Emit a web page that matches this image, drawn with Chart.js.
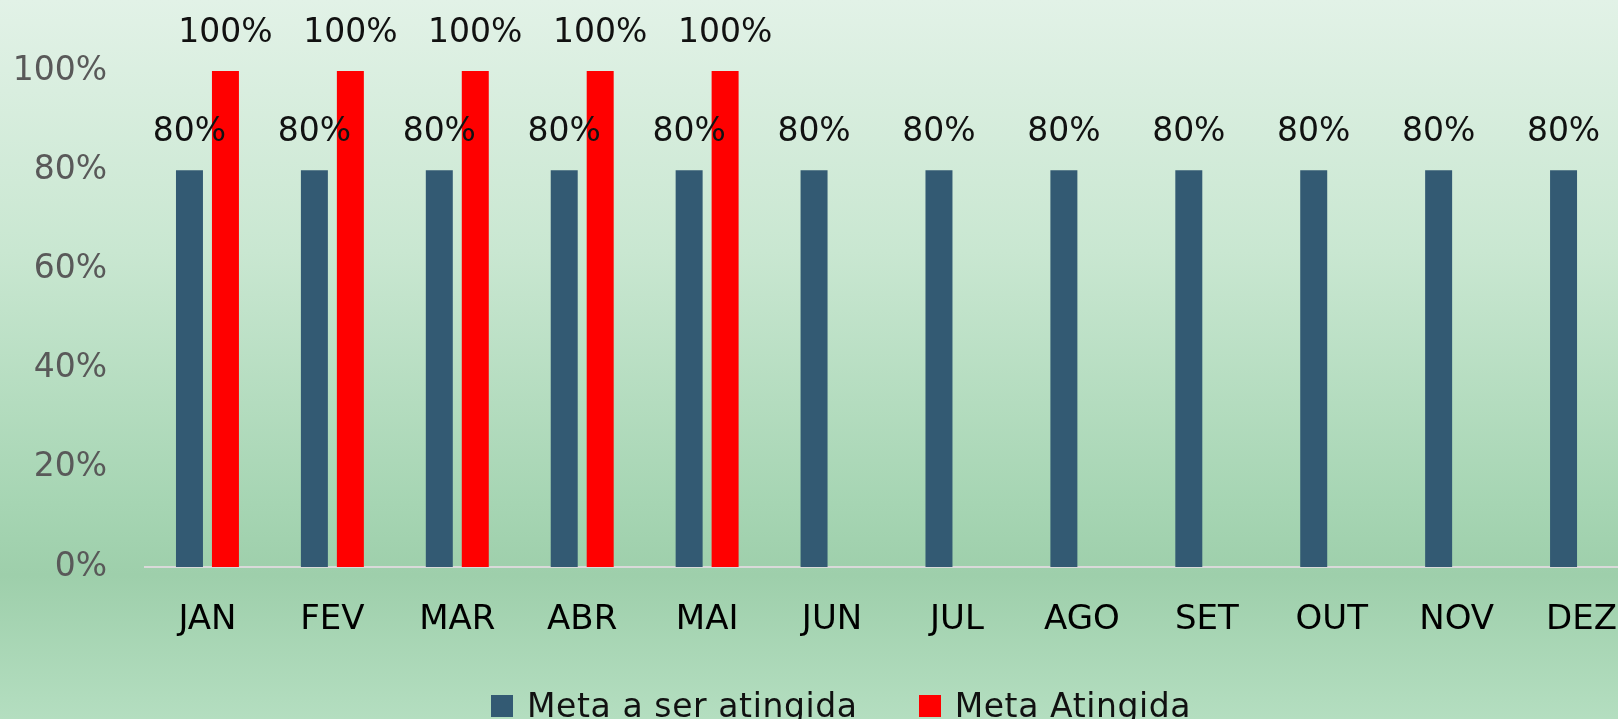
<!DOCTYPE html>
<html>
<head>
<meta charset="utf-8">
<script src="https://cdn.jsdelivr.net/npm/chart.js@4.4.0/dist/chart.umd.min.js"></script>
<style>
  html, body { margin: 0; padding: 0; width: 1618px; height: 719px; overflow: hidden; }
  body { background: linear-gradient(to bottom, #e2f2e7 0%, #c9e7d1 35%, #a6d5b3 70%, #9ecfab 80%, #b4dec0 100%); position: relative; }
  #wrap { position: absolute; left: 0; top: 0; width: 1644px; height: 719px; }
  #legend { position: absolute; left: 491px; top: 689px; font-family: "DejaVu Sans", sans-serif; font-size: 33px; line-height: 33px; letter-spacing: 0.6px; color: #111; white-space: nowrap; }
  #legend span { display: inline-block; margin-right: 61px; }
  #legend i { display: inline-block; width: 22px; height: 22px; margin-right: 14px; vertical-align: baseline; }
</style>
</head>
<body>
<div id="wrap"><canvas id="chart" width="1644" height="719"></canvas></div>
<div id="legend"></div>
<script>
// meses e metas
const months = ['JAN', 'FEV', 'MAR', 'ABR', 'MAI', 'JUN', 'JUL', 'AGO', 'SET', 'OUT', 'NOV', 'DEZ'];
const metaSerAtingida = [0.8, 0.8, 0.8, 0.8, 0.8, 0.8, 0.8, 0.8, 0.8, 0.8, 0.8, 0.8];
const metaAtingida = [1, 1, 1, 1, 1, null, null, null, null, null, null, null];
const seriesNames = ['Meta a ser atingida', 'Meta Atingida'];
const seriesColors = ['#335a73', '#ff0000'];

const pct = v => Math.round(v * 100) + '%';

// draws the value above every bar
const valueLabels = {
    id: 'valueLabels',
    afterDatasetsDraw(chart) {
        const ctx = chart.ctx;
        ctx.save();
        ctx.font = '33px "DejaVu Sans"';
        ctx.fillStyle = '#111';
        ctx.textAlign = 'center';
        ctx.textBaseline = 'alphabetic';
        chart.data.datasets.forEach((ds, i) => {
            chart.getDatasetMeta(i).data.forEach((bar, j) => {
                if (ds.data[j] == null) return;
                ctx.fillText(pct(ds.data[j]), bar.x, bar.y - 29);
            });
        });
        ctx.restore();
    }
};

const ctx = document.getElementById('chart').getContext('2d');
new Chart(ctx, {
    type: 'bar',
    data: {
        labels: months,
        datasets: [
            { label: seriesNames[0], data: metaSerAtingida, backgroundColor: seriesColors[0] },
            { label: seriesNames[1], data: metaAtingida, backgroundColor: seriesColors[1] },
        ],
    },
    options: {
        responsive: false,
        animation: false,
        categoryPercentage: 0.576,
        barPercentage: 0.75,
        layout: { padding: { top: 71, left: 0, right: 0, bottom: 0 } },
        plugins: {
            legend: { display: false },
            tooltip: { enabled: false },
        },
        scales: {
            x: {
                grid: { display: false },
                border: { display: true, color: '#d9d9d9', width: 2 },
                ticks: { color: '#000', font: { family: 'DejaVu Sans', size: 34 }, padding: 25, maxRotation: 0 },
                afterFit: s => { s.height = 719 - 567; },
            },
            y: {
                min: 0,
                max: 1,
                grid: { display: false, drawTicks: false },
                border: { display: false },
                ticks: {
                    stepSize: 0.2,
                    color: '#595959',
                    font: { family: 'DejaVu Sans', size: 33 },
                    padding: 38,
                    callback: v => pct(v),
                },
                afterFit: s => { s.width = 145; },
            },
        },
    },
    plugins: [valueLabels],
});

// legenda
document.getElementById('legend').innerHTML = seriesNames.map((n, i) =>
    `<span><i style="background:${seriesColors[i]}"></i>${n}</span>`).join('');
</script>
</body>
</html>
